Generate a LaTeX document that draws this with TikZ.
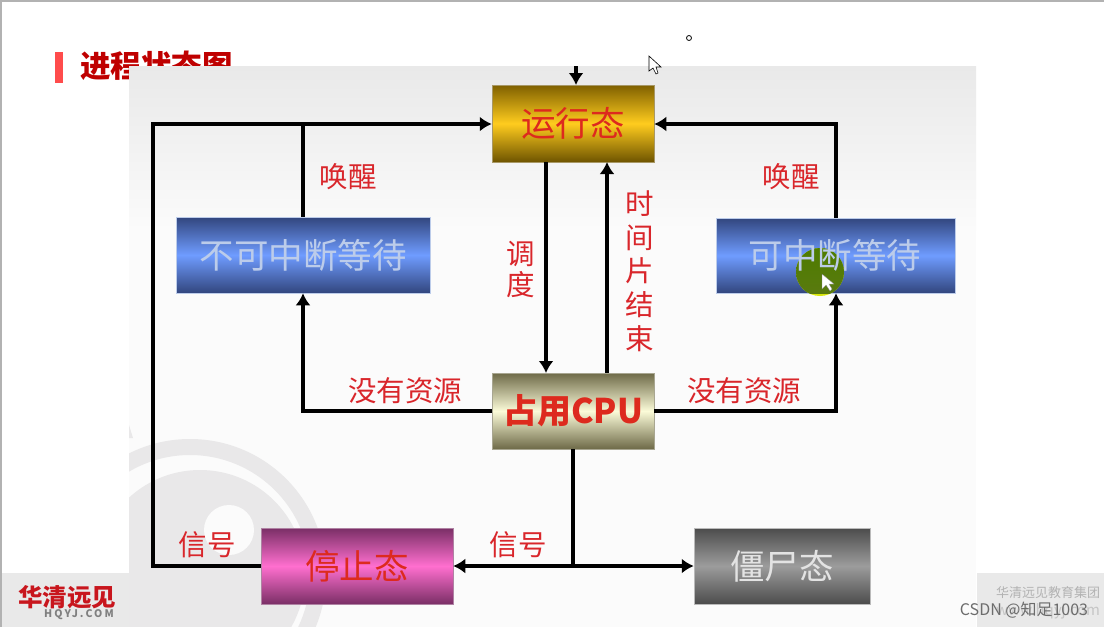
\documentclass[tikz,border=0pt]{standalone}
\usepackage{fontspec}
\setmainfont{Noto Sans CJK SC}
\usepackage{tikz}
\usetikzlibrary{arrows.meta}
\definecolor{lblred}{HTML}{D9262B}
\definecolor{txtred}{HTML}{DD2A1E}
\definecolor{panelgrey}{HTML}{E9E9E9}
\definecolor{panelwhite}{HTML}{FBFBFB}
\definecolor{ringgrey}{HTML}{E9E8E9}
\definecolor{blueedge}{HTML}{32467E}
\definecolor{bluemid}{HTML}{6F9CFF}
\definecolor{bluetext}{HTML}{BCCCEA}
\definecolor{goldtop}{HTML}{7F6000}
\definecolor{goldmid}{HTML}{FFCC1E}
\definecolor{goldlow}{HTML}{6E5400}
\definecolor{oliveedge}{HTML}{6E6A48}
\definecolor{olivemid}{HTML}{FBFBD8}
\definecolor{pinkedge}{HTML}{7A2F66}
\definecolor{pinkmid}{HTML}{FF6FCF}
\definecolor{greyedge}{HTML}{4C4C4C}
\definecolor{greymid}{HTML}{9C9C9C}
\definecolor{logored}{HTML}{C8161D}
\definecolor{spottop}{HTML}{4E7C00}
\definecolor{spotlow}{HTML}{5A7A10}
\tikzset{
  state/.style={minimum height=76pt,inner sep=0pt,font=\fontsize{34.5}{34.5}\selectfont},
  statebox/.style={state,draw=#1,line width=0.5pt},
  note/.style={text=lblred,font=\fontsize{28.5}{28.5}\selectfont,inner sep=0pt},
  link/.style={draw=black,line width=3.6pt,-{Latex[length=12pt,width=15pt]},line join=miter},
  plain/.style={draw=black,line width=3.6pt,line join=miter},
}
\begin{document}
\begin{tikzpicture}[x=1pt,y=-1pt]
\useasboundingbox (0,0) rectangle (1104,627);
\fill[white] (0,0) rectangle (1104,627);
\fill[gray!60] (0,0) rectangle (1104,2);
\fill[gray!60] (0,0) rectangle (2,627);
% slide title and logo strips
\fill[red!70!white] (55,52) rectangle (63,83);
\node[anchor=west,inner sep=0pt,text=red!75!black,font=\fontsize{30.5}{30.5}\selectfont\bfseries] (title) at (80,66) {进程状态图};
\fill[panelgrey] (2,573) rectangle (129,627);
\fill[panelgrey] (977,573) rectangle (1104,627);
% panel
\shade[top color=panelgrey,bottom color=panelwhite] (129,66) rectangle (976,230);
\fill[panelwhite] (129,230) rectangle (976,627);
\begin{scope}
\clip (129,400) rectangle (345,627);
\fill[ringgrey,even odd rule] (190,575) circle (136) (190,575) circle (120);
\fill[ringgrey] (200,575) circle (105);
\fill[panelwhite] (229,530) circle (25);
\fill[ringgrey] (129,425) -- (133,438) -- (129,438) -- cycle;
\end{scope}
\node[inner sep=0pt,text=logored,font=\fontsize{24.5}{24.5}\selectfont\bfseries] (logo) at (67,597) {华清远见};
\node[inner sep=0pt,text=gray,font=\fontsize{10.5}{10.5}\selectfont\bfseries\addfontfeature{LetterSpace=20}] (logourl) at (79,615) {HQYJ.COM};
\node[inner sep=0pt,text=gray!60,font=\fontsize{13}{13}\selectfont] (corp) at (1048,593) {华清远见教育集团};
\node[inner sep=0pt,text=gray!45,font=\fontsize{15}{15}\selectfont] (corpurl) at (1048,611) {www.hqyj.com};
% state boxes
\node[statebox=goldlow!60!white,minimum width=162pt,minimum height=77pt,top color=goldtop,bottom color=goldlow,middle color=goldmid,text=txtred] (run) at (573,123.5) {运行态};
\node[statebox=bluetext,minimum width=254pt,top color=blueedge,bottom color=blueedge,middle color=bluemid,text=bluetext] (deep) at (303,255) {不可中断等待};
\node[statebox=bluetext,minimum width=239pt,minimum height=75pt,top color=blueedge,bottom color=blueedge,middle color=bluemid] (light) at (835.5,255.5) {};
\node[statebox=oliveedge!60!white,minimum width=162pt,top color=oliveedge,bottom color=oliveedge,middle color=olivemid,text=txtred,font=\fontsize{34}{34}\selectfont\bfseries] (cpu) at (573,411) {占用CPU};
\node[statebox=pinkedge!60!white,minimum width=192pt,top color=pinkedge,bottom color=pinkedge,middle color=pinkmid,text=txtred] (stop) at (357,566) {停止态};
\node[statebox=greymid!70!white,minimum width=176pt,top color=greyedge,bottom color=greyedge,middle color=greymid,text=white!78!gray] (zombie) at (782,566) {僵尸态};
% pointer spot under the box text
\fill[yellow!85!green] (820,272) circle (24);
\begin{scope}
\clip (716,218) rectangle (955,293);
\shade[top color=spottop,bottom color=spotlow] (820,272) circle (24);
\end{scope}
\node[inner sep=0pt,text=bluetext,font=\fontsize{34.5}{34.5}\selectfont] (lighttext) at (835,255.5) {可中断等待};
% joints
\coordinate (entry) at (576,66);
\coordinate (runin) at (576,85);
\coordinate (lefttop) at (153,124);
\coordinate (leftlow) at (153,566);
\coordinate (wakeleft) at (303,124);
\coordinate (wakeright) at (836,124);
\coordinate (lackleft) at (303,411);
\coordinate (lackright) at (836,411);
\coordinate (split) at (573,566);
\coordinate (downtop) at (546,162);
\coordinate (downlow) at (546,373);
\coordinate (uplow) at (607,373);
\coordinate (uptop) at (607,162);
% connectors
\draw[link] (entry) -- (runin);
\draw[link] (stop.west) -- (leftlow) -- (lefttop) -- (run.west |- lefttop);
\draw[plain] (deep.north) -- (wakeleft);
\draw[link] (light.north -| wakeright) -- (wakeright) -- (run.east |- wakeright);
\draw[link] (downtop) -- (downlow);
\draw[link] (uplow) -- (uptop);
\draw[link] (cpu.west) -- (lackleft) -- (deep.south);
\draw[link] (cpu.east) -- (lackright) -- (light.south -| lackright);
\draw[plain] (cpu.south) -- (split);
\draw[link] (split) -- (stop.east);
\draw[link] (split) -- (zombie.west);
% labels
\node[note] (wakea) at (348,177) {唤醒};
\node[note] (wakeb) at (791,177) {唤醒};
\node[note,align=center,font=\fontsize{28.5}{31}\selectfont] (sched) at (521,269) {调\\度};
\node[note,align=center,font=\fontsize{28.5}{33.75}\selectfont] (slice) at (640,271) {时\\间\\片\\结\\束};
\node[note] (lacka) at (405,391) {没有资源};
\node[note] (lackb) at (744,391) {没有资源};
\node[note] (siga) at (207,545) {信号};
\node[note] (sigb) at (518,545) {信号};
% pointer marks
\filldraw[white,draw=gray,line width=0.3pt] (822,274) -- (822,289) -- (826,285) -- (830,291) -- (832,289) -- (829,284) -- (834,284) -- cycle;
\filldraw[white,draw=black,line width=0.6pt] (649,56) -- (649,71) -- (653,68) -- (656,74) -- (658,73) -- (656,67) -- (661,67) -- cycle;
\draw[black,line width=0.8pt] (689,38) circle (2.5);
\node[inner sep=0pt,text=gray!85!black,font=\fontsize{16}{16}\selectfont] (csdn) at (1024,610) {CSDN @知足1003};
\end{tikzpicture}
\end{document}
